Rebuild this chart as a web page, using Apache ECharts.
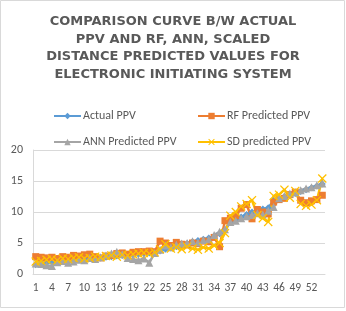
<!DOCTYPE html>
<html><head><meta charset="utf-8">
<script src="https://cdn.jsdelivr.net/npm/echarts@6/dist/echarts.min.js"></script>
<style>html,body{margin:0;padding:0;background:#fff}#c{width:346px;height:311px}</style>
</head><body><div id="c"></div>
<script>
var categories = ['1','2','3','4','5','6','7','8','9','10','11','12','13','14','15','16','17','18','19','20','21','22','23','24','25','26','27','28','29','30','31','32','33','34','35','36','37','38','39','40','41','42','43','44','45','46','47','48','49','50','51','52','53','54'];
var actualPPV = [1.5,1.7,1.8,1.9,2.0,2.1,2.2,2.3,2.3,2.4,2.5,2.5,2.6,2.7,2.8,2.9,3.0,3.0,3.1,3.2,3.3,3.4,3.5,3.7,4.0,4.2,4.4,4.6,4.9,5.2,5.4,5.6,5.8,6.1,6.5,7.0,8.4,8.8,9.2,9.6,10.0,10.3,10.5,10.7,11.8,12.2,12.5,12.8,13.0,13.3,13.6,13.9,14.2,14.5];
var rfPPV = [2.8,2.7,2.6,2.7,2.5,2.8,2.7,3.0,2.9,3.1,3.2,2.8,2.6,2.9,3.0,3.3,3.4,3.2,3.5,3.6,3.6,3.7,3.6,5.3,5.0,4.6,5.1,4.8,4.7,5.0,4.9,5.3,5.2,5.9,4.4,8.6,9.0,9.4,10.6,11.2,8.9,10.4,10.0,9.7,11.6,12.0,12.2,12.8,13.2,11.9,11.5,11.8,12.0,12.7];
var annPPV = [1.7,1.6,1.4,1.3,1.9,2.1,1.8,2.0,2.3,2.2,2.6,2.4,2.7,3.0,3.3,3.6,3.2,2.6,2.4,2.2,2.5,1.8,3.4,3.9,4.6,4.3,4.7,4.9,5.0,5.3,5.1,5.5,5.6,6.3,6.8,7.2,8.4,8.6,9.0,9.3,9.5,9.8,9.6,10.2,10.8,12.2,12.6,13.0,13.2,13.5,13.8,14.0,14.3,14.6];
var sdPPV = [2.0,2.1,2.3,2.4,2.2,2.5,2.4,2.6,2.7,2.5,2.6,2.8,2.7,2.9,3.0,2.8,3.1,3.0,3.2,3.3,3.4,3.3,3.5,4.0,4.8,4.1,4.3,4.0,4.4,4.1,3.9,4.3,4.1,4.6,5.0,6.6,9.4,10.0,10.9,11.3,11.9,9.5,9.0,8.4,12.6,12.8,13.6,12.3,13.4,11.3,11.0,11.2,11.9,15.4];
var yTicks = {min:0, max:20, interval:5};
var titleLines = ['COMPARISON CURVE B/W ACTUAL','PPV AND RF, ANN, SCALED','DISTANCE PREDICTED VALUES FOR','ELECTRONIC INITIATING SYSTEM'];

var xSym = 'path://M0,1 L1,0 L5,4 L9,0 L10,1 L6,5 L10,9 L9,10 L5,6 L1,10 L0,9 L4,5 Z';
var font = 'Calibri, Carlito, "Open Sans", sans-serif';
var txt = '#595959';
function leg(name, left, top){
  return {data:[name], left:left, top:top, itemWidth:27, itemHeight:8, itemGap:0,
    textStyle:{color:txt, fontSize:12, fontFamily:font, padding:[0,0,0,-3]}, padding:0};
}
function ser(name, data, color, symbol, size){
  return {name:name, type:'line', data:data, symbol:symbol, symbolSize:size, showAllSymbol:true,
    lineStyle:{color:color, width:2.5}, itemStyle:{color:color, borderWidth:0},
    emphasis:{disabled:true}, animation:false};
}
var chart = echarts.init(document.getElementById('c'), null, {renderer:'canvas'});
chart.setOption({
  animation:false,
  title:{text:titleLines.join('\n'), left:'center', top:8,
    textStyle:{color:txt, fontSize:13, fontWeight:'bold', fontFamily:'"DejaVu Sans", sans-serif', lineHeight:17.6}},
  legend:[leg('Actual PPV',53,110), leg('RF Predicted PPV',197,110), leg('ANN Predicted PPV',53,136), leg('SD predicted PPV',197,136)],
  graphic:[{type:'rect', shape:{x:0.5,y:0.5,width:344,height:307}, style:{fill:null, stroke:'#D9D9D9', lineWidth:1}, silent:true, z:-1}],
  grid:{left:33, right:21, top:150, bottom:37},
  xAxis:{type:'category', data:categories, boundaryGap:true,
    axisLine:{show:true, lineStyle:{color:'#D9D9D9'}}, axisTick:{show:false},
    axisLabel:{interval:2, color:txt, fontSize:11.5, fontFamily:font, margin:8}},
  yAxis:{type:'value', min:yTicks.min, max:yTicks.max, interval:yTicks.interval,
    axisLine:{show:true, lineStyle:{color:'#D9D9D9'}}, axisTick:{show:false},
    splitLine:{lineStyle:{color:'#D9D9D9'}},
    axisLabel:{color:txt, fontSize:12, fontFamily:font, margin:10}},
  series:[
    ser('Actual PPV', actualPPV, '#5B9BD5', 'diamond', 7),
    ser('RF Predicted PPV', rfPPV, '#ED7D31', 'rect', 7),
    ser('ANN Predicted PPV', annPPV, '#A5A5A5', 'triangle', 8),
    ser('SD predicted PPV', sdPPV, '#FFC000', xSym, 9)
  ]
});
</script></body></html>
